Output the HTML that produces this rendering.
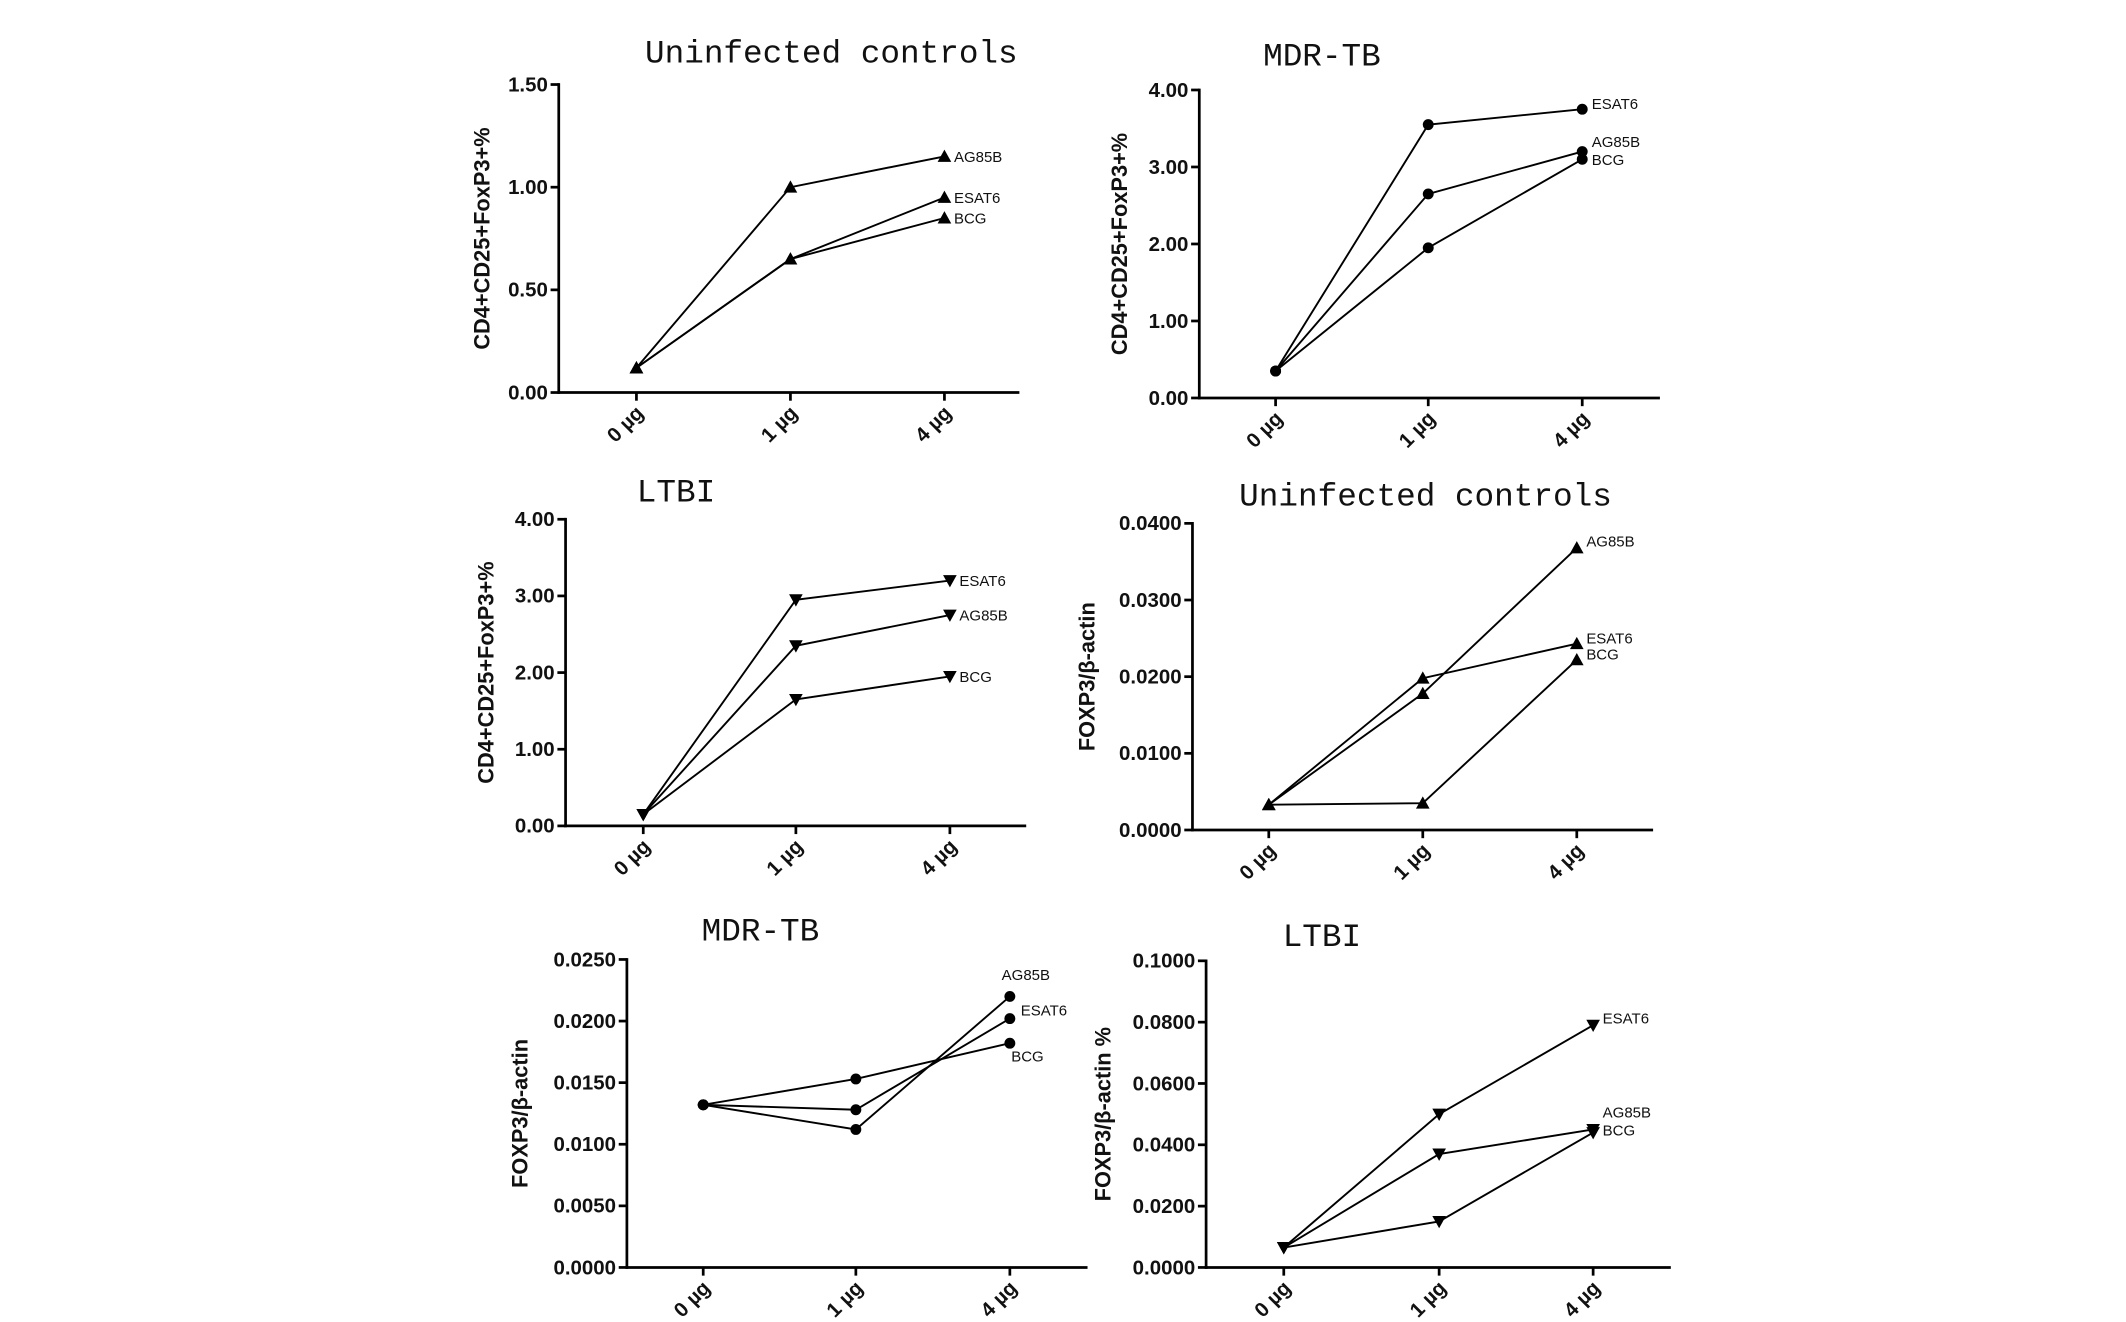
<!DOCTYPE html>
<html><head><meta charset="utf-8"><style>
html,body{margin:0;padding:0;background:#fff;}
svg{display:block;}
.tick{font-family:"Liberation Sans",sans-serif;font-weight:bold;font-size:15px;fill:#111;}
.ttl{font-family:"Liberation Mono",monospace;font-size:24px;fill:#111;}
.lab{font-family:"Liberation Sans",sans-serif;font-size:11px;fill:#111;}
.ylab{font-family:"Liberation Sans",sans-serif;font-weight:bold;font-size:16px;fill:#111;}
</style></head><body>
<svg id="fig" xmlns="http://www.w3.org/2000/svg" width="2126" height="1322" viewBox="0 0 1560 970"></svg>
<script>
const categories = ["0 µg","1 µg","4 µg"];
const seriesNames = ["AG85B","ESAT6","BCG"];
const c1AG85B=[0.12,1.00,1.15], c1ESAT6=[0.12,0.65,0.95], c1BCG=[0.12,0.65,0.85];
const c2AG85B=[0.35,2.65,3.20], c2ESAT6=[0.35,3.55,3.75], c2BCG=[0.35,1.95,3.10];
const c3AG85B=[0.15,2.35,2.75], c3ESAT6=[0.15,2.95,3.20], c3BCG=[0.15,1.65,1.95];
const c4AG85B=[0.0033,0.0178,0.0368], c4ESAT6=[0.0033,0.0198,0.0243], c4BCG=[0.0033,0.0035,0.0222];
const c5AG85B=[0.0132,0.0112,0.0220], c5ESAT6=[0.0132,0.0128,0.0202], c5BCG=[0.0132,0.0153,0.0182];
const c6AG85B=[0.0065,0.037,0.045], c6ESAT6=[0.0065,0.050,0.079], c6BCG=[0.0065,0.015,0.044];
const c1Ticks=[0,0.5,1.0,1.5], c2Ticks=[0,1,2,3,4], c3Ticks=[0,1,2,3,4];
const c4Ticks=[0,0.01,0.02,0.03,0.04], c5Ticks=[0,0.005,0.01,0.015,0.02,0.025], c6Ticks=[0,0.02,0.04,0.06,0.08,0.1];

const NS="http://www.w3.org/2000/svg";
const svg=document.getElementById('fig');
function mk(tag,attrs,parent){const e=document.createElementNS(NS,tag);for(const k in attrs)e.setAttribute(k,attrs[k]);(parent||svg).appendChild(e);return e;}

const charts=[
 {id:'c1',ax:410,top:62,bot:288,right:748,cx:[467,580,693],max:1.5,dec:2,ticks:c1Ticks,title:'Uninfected controls',tx:610,ty:46,ylab:'CD4+CD25+FoxP3+%',ylx:359,marker:'up',
  series:[c1AG85B,c1ESAT6,c1BCG],labY:[null,null,null]},
 {id:'c2',ax:880,top:66,bot:292,right:1218,cx:[936,1048,1161],max:4,dec:2,ticks:c2Ticks,title:'MDR-TB',tx:970,ty:48,ylab:'CD4+CD25+FoxP3+%',ylx:827,marker:'dot',
  series:[c2AG85B,c2ESAT6,c2BCG],labY:[108,80,121]},
 {id:'c3',ax:415,top:381,bot:606,right:753,cx:[472,584,697],max:4,dec:2,ticks:c3Ticks,title:'LTBI',tx:496,ty:368,ylab:'CD4+CD25+FoxP3+%',ylx:362,marker:'down',
  series:[c3AG85B,c3ESAT6,c3BCG],labY:[null,null,null]},
 {id:'c4',ax:875,top:384,bot:609,right:1213,cx:[931,1044,1157],max:0.04,dec:4,ticks:c4Ticks,title:'Uninfected controls',tx:1046,ty:371,ylab:'FOXP3/β-actin',ylx:803,marker:'up',
  series:[c4AG85B,c4ESAT6,c4BCG],labY:[401,472,484]},
 {id:'c5',ax:460,top:704,bot:930,right:798,cx:[516,628,741],max:0.025,dec:4,ticks:c5Ticks,title:'MDR-TB',tx:558,ty:690,ylab:'FOXP3/β-actin',ylx:387,marker:'dot',
  series:[c5AG85B,c5ESAT6,c5BCG],labY:[719,745,779],labX:[735,749,742]},
 {id:'c6',ax:885,top:705,bot:930,right:1226,cx:[942,1056,1169],max:0.1,dec:4,ticks:c6Ticks,title:'LTBI',tx:970,ty:694,ylab:'FOXP3/β-actin %',ylx:815,marker:'down',
  series:[c6AG85B,c6ESAT6,c6BCG],labY:[820,751,833]}
];

charts.forEach(c=>{
 const g=mk('g',{});
 
 
 const y=v=>c.bot-(v/c.max)*(c.bot-c.top);
 const t=mk('text',{x:c.tx,y:c.ty,'text-anchor':'middle',class:'ttl'},g);t.textContent=c.title;
 
 
 const yl=mk('text',{x:0,y:0,'text-anchor':'middle',class:'ylab',transform:`translate(${c.ylx},${(c.top+c.bot)/2}) rotate(-90)`},g);yl.textContent=c.ylab;
 
 
 const ya=mk('line',{x1:c.ax,y1:c.top-1,x2:c.ax,y2:c.bot+1,stroke:'#000','stroke-width':2},g);
 
 
 const xa=mk('line',{x1:c.ax-1,y1:c.bot,x2:c.right,y2:c.bot,stroke:'#000','stroke-width':2},g);
 
 
 c.ticks.forEach(tv=>{
  const yy=y(tv);
  mk('line',{x1:c.ax-6,y1:yy,x2:c.ax,y2:yy,stroke:'#000','stroke-width':2},g);
  const tl=mk('text',{x:c.ax-8,y:yy+5,'text-anchor':'end',class:'tick'},g);tl.textContent=tv.toFixed(c.dec);
  
  
 });
 categories.forEach((cat,i)=>{
  const xx=c.cx[i];
  mk('line',{x1:xx,y1:c.bot,x2:xx,y2:c.bot+6,stroke:'#000','stroke-width':2},g);
  const xl=mk('text',{x:0,y:0,'text-anchor':'end',class:'tick',transform:`translate(${xx+6},${c.bot+16}) rotate(-45)`},g);xl.textContent=cat;
  
  
 });
 c.series.forEach((s,si)=>{
  const pts=s.map((v,i)=>c.cx[i]+','+y(v)).join(' ');
  const pl=mk('polyline',{points:pts,fill:'none',stroke:'#000','stroke-width':1.4},g);
  
  
  s.forEach((v,i)=>{
   const px=c.cx[i],py=y(v);let m;
   if(c.marker==='dot')m=mk('circle',{cx:px,cy:py,r:4,fill:'#000'},g);
   else if(c.marker==='up')m=mk('polygon',{points:`${px-5},${py+4} ${px+5},${py+4} ${px},${py-5}`,fill:'#000'},g);
   else m=mk('polygon',{points:`${px-5},${py-4} ${px+5},${py-4} ${px},${py+5}`,fill:'#000'},g);
   
   
  });
  const ly=c.labY[si]!=null?c.labY[si]:y(s[2])+4;
  const lx=c.labX?c.labX[si]:c.cx[2]+7;
  const lb=mk('text',{x:lx,y:ly,class:'lab'},g);lb.textContent=seriesNames[si];
  
  
 });
});
</script>
</body></html>
